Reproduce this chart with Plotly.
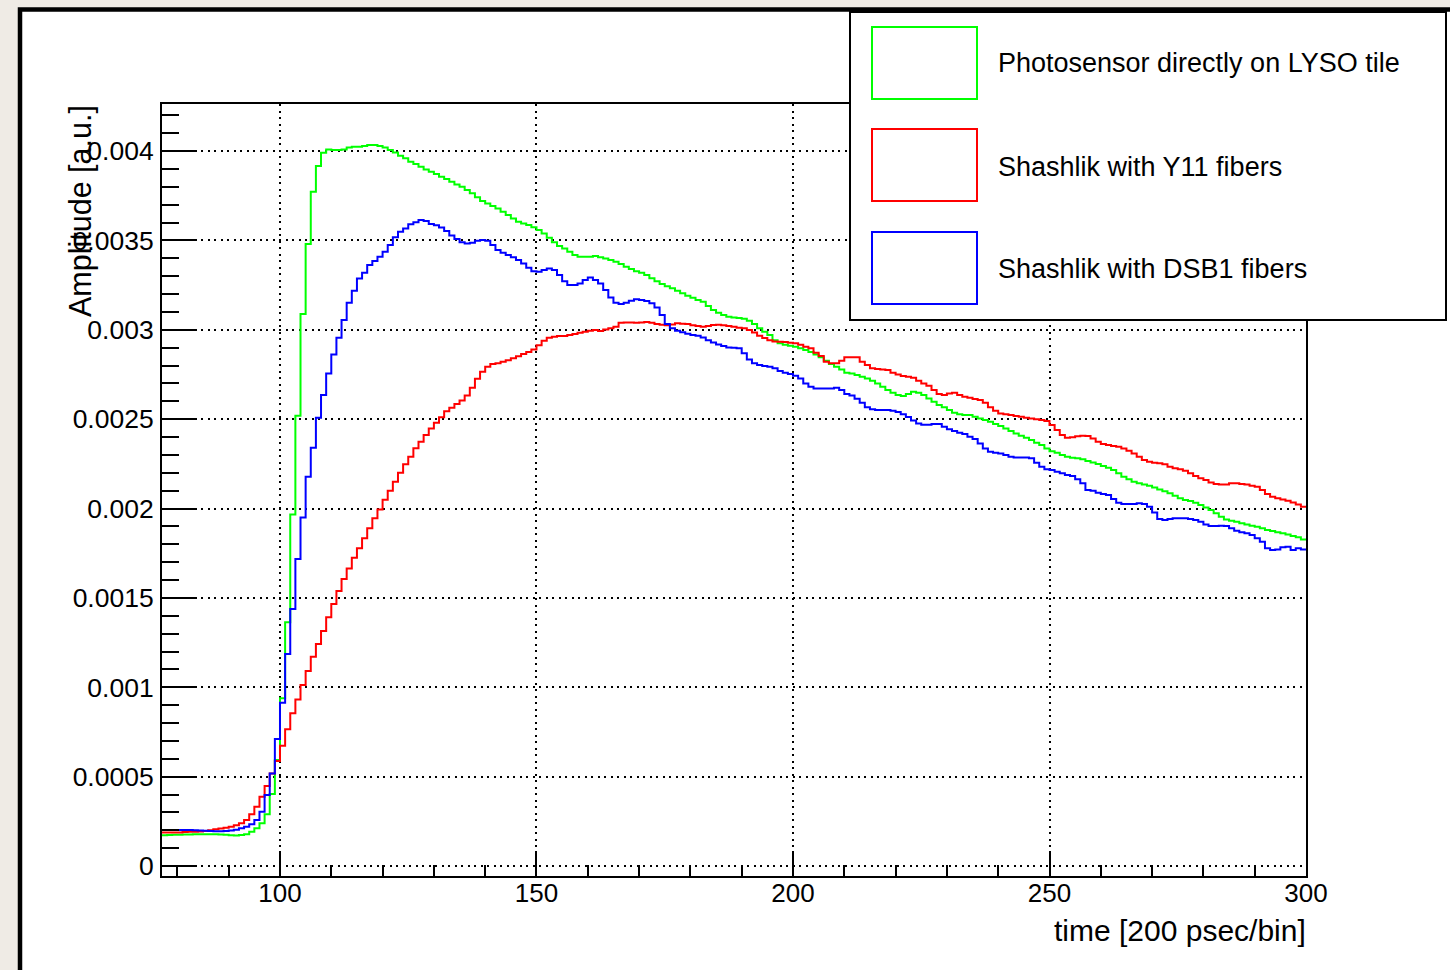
import plotly.graph_objects as go

# ---------------- data (bins of width 1, left edges 77..299) ----------------
first_bin = 77
last_edge = 300

series_names = ["Photosensor directly on LYSO tile",
                "Shashlik with Y11 fibers",
                "Shashlik with DSB1 fibers"]

green_vals = [
    0.000172, 0.000174, 0.000175, 0.000175, 0.000176, 0.000176, 0.000177, 0.000178, 0.000178, 0.000178,
    0.000177, 0.000176, 0.000175, 0.000172, 0.000170, 0.000173, 0.000177, 0.000192, 0.000211, 0.000239,
    0.000289, 0.000403, 0.000593, 0.000938, 0.001363, 0.001967, 0.002519, 0.003088, 0.003480, 0.003772,
    0.003916, 0.003990, 0.004009, 0.004005, 0.004005, 0.004009, 0.004020, 0.004024, 0.004024, 0.004028,
    0.004033, 0.004033, 0.004028, 0.004020, 0.004005, 0.003992, 0.003974, 0.003959, 0.003940, 0.003927,
    0.003912, 0.003897, 0.003884, 0.003871, 0.003856, 0.003843, 0.003828, 0.003813, 0.003800, 0.003782,
    0.003763, 0.003741, 0.003720, 0.003707, 0.003692, 0.003679, 0.003660, 0.003642, 0.003623, 0.003604,
    0.003595, 0.003586, 0.003573, 0.003558, 0.003539, 0.003515, 0.003489, 0.003468, 0.003455, 0.003437,
    0.003418, 0.003409, 0.003409, 0.003409, 0.003412, 0.003405, 0.003399, 0.003390, 0.003381, 0.003368,
    0.003353, 0.003340, 0.003328, 0.003319, 0.003306, 0.003288, 0.003272, 0.003256, 0.003244, 0.003232,
    0.003218, 0.003204, 0.003190, 0.003179, 0.003166, 0.003157, 0.003133, 0.003110, 0.003095, 0.003082,
    0.003073, 0.003069, 0.003066, 0.003062, 0.003051, 0.003032, 0.003008, 0.002989, 0.002970, 0.002942,
    0.002924, 0.002916, 0.002911, 0.002905, 0.002896, 0.002887, 0.002875, 0.002862, 0.002846, 0.002827,
    0.002808, 0.002793, 0.002778, 0.002760, 0.002755, 0.002747, 0.002737, 0.002728, 0.002715, 0.002700,
    0.002681, 0.002663, 0.002648, 0.002635, 0.002629, 0.002640, 0.002653, 0.002648, 0.002635, 0.002616,
    0.002597, 0.002579, 0.002566, 0.002551, 0.002536, 0.002527, 0.002523, 0.002523, 0.002514, 0.002504,
    0.002495, 0.002486, 0.002473, 0.002461, 0.002448, 0.002433, 0.002420, 0.002407, 0.002396, 0.002383,
    0.002368, 0.002355, 0.002336, 0.002321, 0.002312, 0.002299, 0.002290, 0.002284, 0.002281, 0.002275,
    0.002266, 0.002258, 0.002249, 0.002238, 0.002228, 0.002215, 0.002197, 0.002178, 0.002163, 0.002150,
    0.002141, 0.002135, 0.002128, 0.002118, 0.002107, 0.002096, 0.002085, 0.002072, 0.002057, 0.002047,
    0.002042, 0.002032, 0.002019, 0.002005, 0.001991, 0.001973, 0.001954, 0.001939, 0.001932, 0.001926,
    0.001917, 0.001911, 0.001904, 0.001898, 0.001889, 0.001880, 0.001874, 0.001867, 0.001861, 0.001855,
    0.001846, 0.001839, 0.001827,
]

red_vals = [
    0.000188, 0.000188, 0.000188, 0.000188, 0.000190, 0.000191, 0.000192, 0.000193, 0.000196, 0.000200,
    0.000205, 0.000210, 0.000214, 0.000220, 0.000228, 0.000239, 0.000257, 0.000289, 0.000332, 0.000388,
    0.000448, 0.000518, 0.000587, 0.000673, 0.000765, 0.000854, 0.000932, 0.001013, 0.001091, 0.001171,
    0.001242, 0.001315, 0.001391, 0.001466, 0.001538, 0.001606, 0.001665, 0.001725, 0.001777, 0.001833,
    0.001889, 0.001945, 0.001995, 0.002049, 0.002100, 0.002150, 0.002200, 0.002247, 0.002290, 0.002337,
    0.002374, 0.002411, 0.002448, 0.002480, 0.002510, 0.002544, 0.002563, 0.002584, 0.002604, 0.002632,
    0.002675, 0.002726, 0.002765, 0.002793, 0.002808, 0.002812, 0.002821, 0.002830, 0.002840, 0.002852,
    0.002864, 0.002875, 0.002890, 0.002914, 0.002938, 0.002955, 0.002961, 0.002965, 0.002965, 0.002970,
    0.002976, 0.002983, 0.002989, 0.002995, 0.002998, 0.002993, 0.003002, 0.003008, 0.003017, 0.003039,
    0.003041, 0.003041, 0.003039, 0.003041, 0.003043, 0.003039, 0.003032, 0.003028, 0.003025, 0.003030,
    0.003036, 0.003034, 0.003032, 0.003025, 0.003021, 0.003017, 0.003021, 0.003026, 0.003028, 0.003025,
    0.003021, 0.003017, 0.003011, 0.003008, 0.002998, 0.002985, 0.002967, 0.002954, 0.002942, 0.002935,
    0.002933, 0.002931, 0.002927, 0.002924, 0.002916, 0.002905, 0.002896, 0.002872, 0.002853, 0.002821,
    0.002812, 0.002812, 0.002827, 0.002846, 0.002846, 0.002846, 0.002821, 0.002803, 0.002784, 0.002780,
    0.002778, 0.002775, 0.002760, 0.002750, 0.002741, 0.002737, 0.002732, 0.002715, 0.002700, 0.002687,
    0.002663, 0.002640, 0.002635, 0.002644, 0.002648, 0.002635, 0.002625, 0.002620, 0.002612, 0.002607,
    0.002592, 0.002566, 0.002547, 0.002532, 0.002527, 0.002523, 0.002517, 0.002514, 0.002508, 0.002504,
    0.002499, 0.002495, 0.002489, 0.002467, 0.002439, 0.002411, 0.002396, 0.002398, 0.002404, 0.002407,
    0.002405, 0.002392, 0.002374, 0.002361, 0.002355, 0.002350, 0.002346, 0.002336, 0.002323, 0.002308,
    0.002290, 0.002271, 0.002262, 0.002256, 0.002253, 0.002247, 0.002234, 0.002225, 0.002219, 0.002211,
    0.002197, 0.002182, 0.002169, 0.002159, 0.002146, 0.002137, 0.002135, 0.002135, 0.002141, 0.002141,
    0.002137, 0.002135, 0.002128, 0.002122, 0.002103, 0.002081, 0.002066, 0.002057, 0.002051, 0.002044,
    0.002034, 0.002023, 0.002010,
]

blue_vals = [
    0.000201, 0.000201, 0.000201, 0.000201, 0.000201, 0.000201, 0.000200, 0.000199, 0.000197, 0.000196,
    0.000195, 0.000195, 0.000196, 0.000198, 0.000203, 0.000211, 0.000220, 0.000233, 0.000257, 0.000304,
    0.000397, 0.000518, 0.000710, 0.000914, 0.001186, 0.001438, 0.001717, 0.001950, 0.002178, 0.002340,
    0.002508, 0.002635, 0.002756, 0.002862, 0.002956, 0.003054, 0.003151, 0.003218, 0.003287, 0.003319,
    0.003362, 0.003384, 0.003409, 0.003437, 0.003474, 0.003517, 0.003548, 0.003567, 0.003590, 0.003601,
    0.003614, 0.003608, 0.003591, 0.003584, 0.003572, 0.003553, 0.003528, 0.003508, 0.003490, 0.003483,
    0.003487, 0.003498, 0.003502, 0.003498, 0.003474, 0.003446, 0.003431, 0.003418, 0.003405, 0.003390,
    0.003371, 0.003347, 0.003328, 0.003325, 0.003334, 0.003343, 0.003334, 0.003306, 0.003272, 0.003250,
    0.003250, 0.003259, 0.003278, 0.003293, 0.003278, 0.003259, 0.003222, 0.003181, 0.003151, 0.003144,
    0.003151, 0.003162, 0.003170, 0.003166, 0.003161, 0.003148, 0.003125, 0.003082, 0.003032, 0.003008,
    0.002995, 0.002986, 0.002978, 0.002970, 0.002966, 0.002957, 0.002942, 0.002929, 0.002918, 0.002909,
    0.002901, 0.002900, 0.002896, 0.002868, 0.002834, 0.002812, 0.002803, 0.002797, 0.002793, 0.002784,
    0.002769, 0.002760, 0.002752, 0.002743, 0.002728, 0.002700, 0.002681, 0.002672, 0.002672, 0.002672,
    0.002672, 0.002676, 0.002663, 0.002640, 0.002632, 0.002614, 0.002592, 0.002566, 0.002555, 0.002551,
    0.002551, 0.002551, 0.002547, 0.002540, 0.002528, 0.002512, 0.002493, 0.002475, 0.002469, 0.002469,
    0.002473, 0.002473, 0.002458, 0.002443, 0.002433, 0.002424, 0.002417, 0.002402, 0.002389, 0.002364,
    0.002336, 0.002318, 0.002312, 0.002308, 0.002299, 0.002290, 0.002286, 0.002286, 0.002286, 0.002281,
    0.002256, 0.002234, 0.002219, 0.002215, 0.002206, 0.002197, 0.002187, 0.002182, 0.002163, 0.002141,
    0.002103, 0.002100, 0.002088, 0.002081, 0.002075, 0.002053, 0.002032, 0.002025, 0.002025, 0.002025,
    0.002029, 0.002025, 0.002010, 0.001977, 0.001941, 0.001936, 0.001941, 0.001945, 0.001945, 0.001945,
    0.001941, 0.001936, 0.001926, 0.001911, 0.001902, 0.001902, 0.001904, 0.001902, 0.001889, 0.001876,
    0.001867, 0.001861, 0.001852, 0.001833, 0.001814, 0.001777, 0.001768, 0.001771, 0.001783, 0.001786,
    0.001768, 0.001777, 0.001771,
]

x_tick_vals = [100, 150, 200, 250, 300]
x_tick_text = ["100", "150", "200", "250", "300"]
y_tick_vals = [0, 0.0005, 0.001, 0.0015, 0.002, 0.0025, 0.003, 0.0035, 0.004]
y_tick_text = ["0", "0.0005", "0.001", "0.0015", "0.002", "0.0025", "0.003", "0.0035", "0.004"]

x_title = "time [200 psec/bin]"
y_title = "Amplitude [a.u.]"

colors = ["#00ff00", "#ff0000", "#0000ff"]
all_vals = [green_vals, red_vals, blue_vals]

# ---------------- layout geometry (pixels) ----------------
W, H = 1450, 970
L, R, T, B = 162, 144, 104, 94
PW, PH = W - L - R, H - T - B


def px(xp):
    return (xp - L) / PW


def py(yp):
    return (H - B - yp) / PH


FONT = "Liberation Sans, Arial, Helvetica, sans-serif"

fig = go.Figure()
for name, vals, col in zip(series_names, all_vals, colors):
    n = len(vals)
    xs = list(range(first_bin, first_bin + n)) + [first_bin + n]
    ys = list(vals) + [vals[-1]]
    fig.add_trace(go.Scatter(x=xs, y=ys, mode="lines", name=name,
                             line=dict(color=col, width=2, shape="hv"),
                             showlegend=False, hoverinfo="skip"))

grid_dash = "2px,4.5px"
fig.update_xaxes(range=[77, 300], tickmode="array", tickvals=x_tick_vals, ticktext=x_tick_text,
                 ticks="inside", ticklen=25, tickwidth=2, tickcolor="black",
                 minor=dict(dtick=10, tick0=0, ticklen=11, tickwidth=2, tickcolor="black",
                            ticks="inside", showgrid=False),
                 showgrid=True, gridcolor="black", gridwidth=2, griddash=grid_dash,
                 showline=True, linecolor="black", linewidth=2, mirror=True,
                 zeroline=False, tickfont=dict(family=FONT, size=26, color="black"),
                 ticklabelstandoff=-7)
fig.update_yaxes(range=[-0.0000559, 0.004263], tickmode="array", tickvals=y_tick_vals, ticktext=y_tick_text,
                 ticks="inside", ticklen=33, tickwidth=2, tickcolor="black",
                 minor=dict(dtick=0.0001, tick0=0, ticklen=17, tickwidth=2, tickcolor="black",
                            ticks="inside", showgrid=False),
                 showgrid=True, gridcolor="black", gridwidth=2, griddash=grid_dash,
                 showline=True, linecolor="black", linewidth=2, mirror=True,
                 zeroline=False, tickfont=dict(family=FONT, size=26.5, color="black"),
                 ticklabelstandoff=1)

shapes = []
# outer canvas: white pad with thick black border over grey background
shapes.append(dict(type="rect", xref="paper", yref="paper", layer="below",
                   x0=px(20), x1=px(1470), y0=py(990), y1=py(9.5),
                   fillcolor="white", line=dict(color="black", width=4.5)))
# legend box
shapes.append(dict(type="rect", xref="paper", yref="paper", layer="above",
                   x0=px(850), x1=px(1446), y0=py(320), y1=py(12),
                   fillcolor="white", line=dict(color="black", width=2)))
legend_rows = [(27, 99, 63), (129, 201, 167), (232, 304, 269)]
annotations = []
for (top, bot, mid), col, name in zip(legend_rows, colors, series_names):
    shapes.append(dict(type="rect", xref="paper", yref="paper", layer="above",
                       x0=px(872), x1=px(977), y0=py(bot), y1=py(top),
                       fillcolor="rgba(0,0,0,0)", line=dict(color=col, width=2)))
    annotations.append(dict(xref="paper", yref="paper", x=px(996), y=py(mid),
                            xanchor="left", yanchor="middle", showarrow=False, text=name,
                            font=dict(family=FONT, size=27, color="black")))

annotations.append(dict(xref="paper", yref="paper", x=px(1308), y=py(930),
                        xanchor="right", yanchor="middle", showarrow=False, text=x_title,
                        font=dict(family=FONT, size=30, color="black")))
annotations.append(dict(xref="paper", yref="paper", x=px(80), y=py(103),
                        xanchor="center", yanchor="top", showarrow=False, text=y_title,
                        textangle=-90, font=dict(family=FONT, size=30.5, color="black")))

fig.update_layout(width=W, height=H, autosize=False,
                  margin=dict(l=L, r=R, t=T, b=B, pad=0),
                  paper_bgcolor="#efebe5", plot_bgcolor="white",
                  shapes=shapes, annotations=annotations, showlegend=False)

fig.write_html("out.html")
